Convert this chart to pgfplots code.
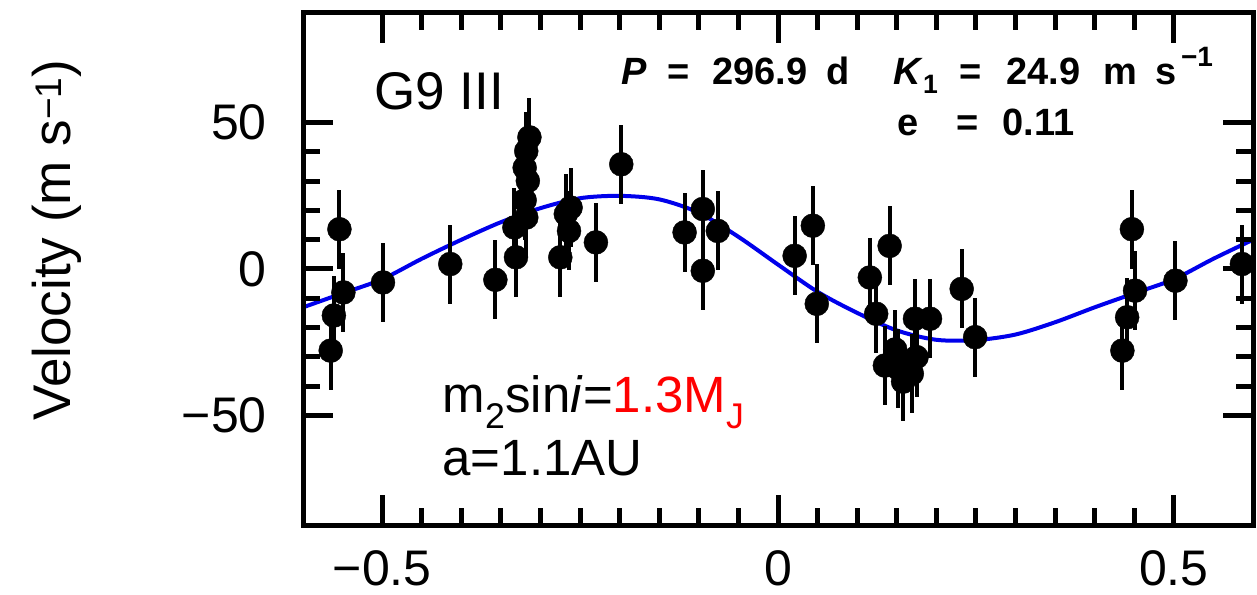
\documentclass[border=0pt]{standalone}
\usepackage{pgfplots}
\pgfplotsset{compat=1.18}
\usepackage{pgfplotstable}
\usepackage{fontspec}
\setmainfont{Liberation Sans}

\pgfplotstableread{
x y e
-0.554 13.6 13.5
-0.549 -8.0 13.5
-0.561 -15.9 13.5
-0.565 -27.9 13.5
-0.499 -4.6 13.5
-0.414 1.7 13.5
-0.357 -3.7 13.5
-0.331 4.0 13.5
-0.333 14.2 13.5
-0.318 17.6 13.5
-0.320 23.5 13.5
-0.316 30.1 13.5
-0.320 34.6 13.5
-0.318 40.3 13.5
-0.314 45.0 13.5
-0.275 4.0 13.5
-0.264 13.0 13.5
-0.268 18.8 13.5
-0.262 21.0 13.5
-0.230 9.1 13.5
-0.198 35.8 13.5
-0.118 12.5 13.5
-0.095 20.5 13.5
-0.076 13.0 13.5
-0.095 -0.6 13.5
0.021 4.5 13.5
0.044 14.8 13.5
0.049 -11.9 13.5
0.116 -2.9 13.5
0.141 7.9 13.5
0.124 -15.3 13.5
0.173 -17.0 13.5
0.192 -17.0 13.5
0.135 -33.0 13.5
0.152 -34.0 13.5
0.169 -35.8 13.5
0.158 -38.5 13.5
0.148 -27.5 13.5
0.175 -30.1 13.5
0.232 -6.8 13.5
0.249 -23.3 13.5
0.447 13.6 13.5
0.451 -7.4 13.5
0.441 -16.5 13.5
0.435 -27.9 13.5
0.502 -4.0 13.5
0.586 1.7 13.5
}\rvdata

\pgfplotstableread{
x y
-0.60 -13.1
-0.55 -8.3
-0.50 -3.5
-0.45 3.5
-0.40 10.0
-0.35 16.0
-0.30 20.8
-0.25 24.2
-0.20 25.0
-0.15 23.8
-0.10 19.2
-0.05 11.0
0.00 1.5
0.05 -7.8
0.10 -15.0
0.15 -21.0
0.20 -24.2
0.25 -24.3
0.30 -22.4
0.35 -18.2
0.40 -13.1
0.45 -8.3
0.50 -3.5
0.55 3.5
0.60 10.0
}\fitcurve

\begin{document}
\begin{tikzpicture}
\useasboundingbox (0,0) rectangle (1257pt,594pt);
\begin{axis}[
  at={(303pt,69pt)}, anchor=south west,
  width=950pt, height=512pt, scale only axis,
  xmin=-0.6, xmax=0.6, ymin=-87.5, ymax=87.5,
  xtick={-0.5,0,0.5}, xticklabels={−0.5,0,0.5},
  ytick={-50,0,50}, yticklabels={−50,0,50},
  minor x tick num=9, minor y tick num=4,
  xtick pos=both, ytick pos=both,
  tick align=inside,
  major tick length=30pt, minor tick length=17pt,
  major tick style={line width=5pt, black},
  minor tick style={line width=5pt, black},
  axis line style={line width=5pt},
  axis on top,
  /pgf/number format/assume math mode=true,
  ticklabel style={font=\fontsize{50}{56}\selectfont},
  xticklabel style={inner sep=0pt, yshift=-25pt},
  yticklabel style={inner sep=0pt, xshift=-36pt},
  ylabel={Velocity (m s\textsuperscript{−1})},
  ylabel style={font=\fontsize{53}{60}\selectfont, at={(axis description cs:-0.259,0.557)}, anchor=center},
]
\addplot[color={rgb,255:red,0;green,0;blue,235}, line width=4pt, smooth, no markers] table[x=x,y=y] {\fitcurve};
\addplot[only marks, mark=*, mark size=12pt, black,
  error bars/.cd, y dir=both, y explicit, error mark=none,
  error bar style={line width=4pt, black}]
  table[x=x, y=y, y error=e] {\rvdata};

\node[anchor=base west, font=\fontsize{53}{60}\selectfont, inner sep=0pt] at (axis cs:-0.510,54.6) {G9 III};
\node[anchor=base west, font=\fontsize{51}{58}\selectfont, inner sep=0pt] at (axis cs:-0.424,-48.9) {m\textsubscript{2}sin\textit{i}=\textcolor{red}{1.3M\textsubscript{J}}};
\node[anchor=base west, font=\fontsize{51}{58}\selectfont, inner sep=0pt] at (axis cs:-0.424,-70.5) {a=1.1AU};

\begin{scope}[every node/.style={anchor=base, inner sep=0pt, font=\fontsize{38}{44}\selectfont\bfseries}]
\node at (axis cs:-0.182,63.2) {\textit{P}};
\node at (axis cs:-0.125,63.2) {=};
\node at (axis cs:-0.0228,63.2) {296.9};
\node at (axis cs:0.0759,63.2) {d};
\node[anchor=base west] at (axis cs:0.1456,63.2) {\textit{K}\textsubscript{1}};
\node at (axis cs:0.243,63.2) {=};
\node at (axis cs:0.335,63.2) {24.9};
\node at (axis cs:0.432,63.2) {m};
\node[anchor=base west] at (axis cs:0.477,63.2) {s};
\node[anchor=base west, font=\fontsize{28}{32}\selectfont\bfseries] at (axis cs:0.5089,69.3) {−1};
\node at (axis cs:0.1646,45.5) {e};
\node at (axis cs:0.239,45.5) {=};
\node at (axis cs:0.329,45.5) {0.11};
\end{scope}
\end{axis}
\end{tikzpicture}
\end{document}
